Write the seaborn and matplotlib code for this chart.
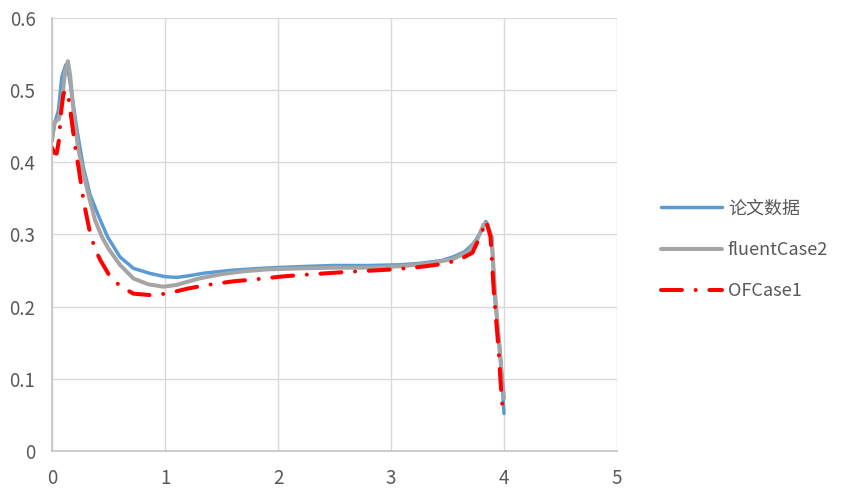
import numpy as np
import pandas as pd
import matplotlib
matplotlib.use("Agg")
import matplotlib.pyplot as plt
import seaborn as sns

# 论文数据 (blue)
paper_x = [0, 0.03, 0.056, 0.086, 0.12, 0.15, 0.18, 0.22, 0.277, 0.336, 0.41, 0.49,
           0.6, 0.72, 0.867, 1.0, 1.103, 1.2, 1.35, 1.6, 1.9, 2.2, 2.49, 2.8, 3.08, 3.257,
           3.45, 3.55, 3.65, 3.73, 3.79, 3.84, 3.89, 3.92, 3.965, 4.0]
paper_y = [0.435, 0.458, 0.472, 0.518, 0.535, 0.52, 0.488, 0.445, 0.393, 0.355, 0.326, 0.297,
           0.269, 0.253, 0.246, 0.2415, 0.2405, 0.2425, 0.2465, 0.2505, 0.2535, 0.2555, 0.257, 0.257, 0.258, 0.26,
           0.264, 0.269, 0.276, 0.2876, 0.302, 0.318, 0.297, 0.209, 0.14, 0.052]

# fluentCase2 (gray)
fluent_x = [0, 0.02, 0.06, 0.09, 0.115, 0.14, 0.16, 0.19, 0.23, 0.277, 0.33, 0.38, 0.44,
            0.5, 0.6, 0.72, 0.85, 0.985, 1.1, 1.3, 1.5, 1.7, 1.9, 2.2, 2.5, 2.8, 3.08,
            3.3, 3.55, 3.68, 3.76, 3.82, 3.85, 3.89, 3.92, 3.96, 4.0]
fluent_y = [0.43, 0.455, 0.46, 0.49, 0.525, 0.54, 0.52, 0.47, 0.42, 0.385, 0.35, 0.32, 0.297,
            0.28, 0.258, 0.239, 0.231, 0.2276, 0.23, 0.239, 0.245, 0.249, 0.2516, 0.253, 0.254, 0.254, 0.256,
            0.259, 0.266, 0.276, 0.292, 0.314, 0.315, 0.297, 0.22, 0.14, 0.073]

# OFCase1 (red dash-dot)
of_x = [0, 0.02, 0.04, 0.06, 0.08, 0.1, 0.124, 0.15, 0.18, 0.21, 0.233, 0.28, 0.336,
        0.38, 0.425, 0.5, 0.557, 0.64, 0.72, 0.867, 1.015, 1.2, 1.369, 1.6, 1.81, 2.05,
        2.31, 2.6, 3.02, 3.257, 3.45, 3.6, 3.72, 3.8, 3.84, 3.88, 3.91, 3.95, 3.98, 3.995]
of_y = [0.42, 0.413, 0.412, 0.43, 0.47, 0.495, 0.50, 0.485, 0.45, 0.415, 0.394, 0.345, 0.302,
        0.28, 0.265, 0.245, 0.2345, 0.225, 0.218, 0.216, 0.218, 0.225, 0.23, 0.235, 0.238, 0.242,
        0.245, 0.248, 0.2516, 0.255, 0.259, 0.2645, 0.2747, 0.3015, 0.319, 0.297, 0.22, 0.144, 0.07, 0.05]

sns.set_style("white")
plt.rcParams["font.family"] = ["Noto Sans CJK SC", "DejaVu Sans"]

fig = plt.figure(figsize=(8.54, 4.98), dpi=100)
ax = fig.add_axes([0.061, 0.0944, 0.6615, 0.8696])

sns.lineplot(x=paper_x, y=paper_y, ax=ax, color="#5B9BD5", linewidth=2.5,
             label="论文数据", sort=False, estimator=None)
sns.lineplot(x=fluent_x, y=fluent_y, ax=ax, color="#A5A5A5", linewidth=2.9,
             label="fluentCase2", sort=False, estimator=None)
sns.lineplot(x=of_x, y=of_y, ax=ax, color="#FF0000", linewidth=2.9,
             label="OFCase1", sort=False, estimator=None)
# long dash - dot, like Excel
ax.lines[2].set_dashes((5.2, 3.4, 0.01, 3.4))
ax.lines[2].set_dash_capstyle("round")

ax.set_xlim(0, 5)
ax.set_ylim(0, 0.6)
ax.set_xticks(range(6))
ax.set_yticks(np.arange(0, 0.61, 0.1))
ax.set_yticklabels(["0", "0.1", "0.2", "0.3", "0.4", "0.5", "0.6"])
ax.grid(True, color="#D9D9D9", linewidth=1.0)
ax.set_axisbelow(True)
for s in ["top", "right"]:
    ax.spines[s].set_visible(False)
for s in ["left", "bottom"]:
    ax.spines[s].set_color("#BFBFBF")
    ax.spines[s].set_linewidth(1.1)
ax.tick_params(length=0, labelsize=13.5, labelcolor="#595959", pad=12)

leg = ax.legend(loc="center left", bbox_to_anchor=(0.774, 0.498),
                bbox_transform=fig.transFigure, frameon=False, fontsize=13,
                handlelength=3.4, handletextpad=0.3, labelspacing=1.3, borderpad=0,
                borderaxespad=0)
for t in leg.get_texts():
    t.set_color("#595959")

fig.savefig("out.png", dpi=100)
